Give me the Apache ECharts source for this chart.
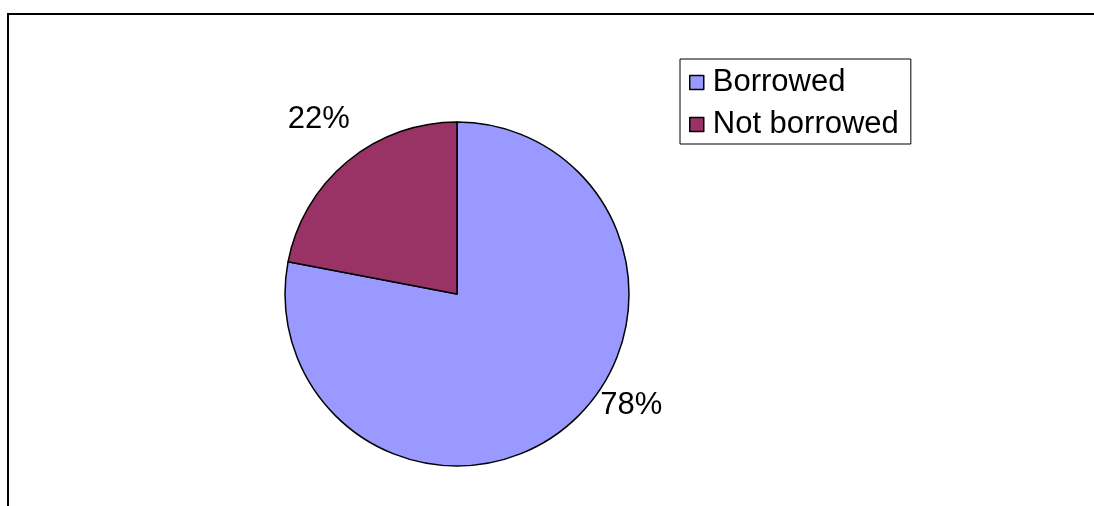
<!DOCTYPE html>
<html>
<head>
<meta charset="utf-8">
<style>
  html, body { margin: 0; padding: 0; background: #fff; }
  #chart { width: 1094px; height: 506px; }
</style>
<script src="https://cdn.jsdelivr.net/npm/echarts@6/dist/echarts.min.js"></script>
</head>
<body>
<div id="chart"></div>
<script>
// Share of respondents who borrowed
const categories = ['Borrowed', 'Not borrowed'];
const shares = [78, 22];
const sliceColors = ['#9999FF', '#993366'];

// Pie geometry (px) and label placement relative to each slice's mid angle
const pieCenter = [457, 294];
const pieRadius = 172;
const labelGap = [35, 51];        // distance beyond the rim to the label centre
const labelTurn = [17.8, -1.3];   // degrees, positive = anticlockwise on screen

const chart = echarts.init(document.getElementById('chart'));
const font = '"Liberation Sans", Arial, sans-serif';

function midAngle(index) {
  const total = shares.reduce((a, b) => a + b, 0);
  let before = 0;
  for (let i = 0; i < index; i++) before += shares[i];
  const mid = (before + shares[index] / 2) / total * 360;
  return 90 - mid; // clockwise from 12 o'clock, in standard degrees
}

chart.setOption({
  animation: false,
  backgroundColor: '#fff',
  legend: {
    orient: 'vertical',
    left: 680,
    top: 59,
    data: categories,
    icon: 'rect',
    itemWidth: 14,
    itemHeight: 14,
    itemGap: 11,
    padding: [8, 12, 4, 9],
    borderColor: '#000',
    borderWidth: 1,
    selectedMode: false,
    itemStyle: { borderColor: '#000', borderWidth: 1.5 },
    textStyle: {
      fontFamily: font,
      fontSize: 31,
      lineHeight: 30,
      color: '#000',
      padding: [0, 0, 0, 4]
    }
  },
  graphic: [{
    type: 'polyline',
    shape: { points: [[8, 506], [8, 14], [1094, 14]] },
    style: { stroke: '#000', lineWidth: 2, fill: null },
    silent: true
  }],
  series: [{
    type: 'pie',
    center: pieCenter,
    radius: pieRadius,
    startAngle: 90,
    clockwise: true,
    silent: true,
    data: categories.map((name, i) => ({
      name: name,
      value: shares[i],
      itemStyle: { color: sliceColors[i] }
    })),
    itemStyle: { borderColor: '#000', borderWidth: 1.5 },
    label: {
      show: true,
      position: 'outside',
      formatter: '{d}%',
      fontFamily: font,
      fontSize: 31,
      color: '#000'
    },
    labelLine: { show: false },
    labelLayout: function (p) {
      const i = p.dataIndex;
      const ang = (midAngle(i) + labelTurn[i]) * Math.PI / 180;
      const dist = pieRadius + labelGap[i];
      return {
        x: pieCenter[0] + Math.cos(ang) * dist,
        y: pieCenter[1] - Math.sin(ang) * dist,
        align: 'center',
        verticalAlign: 'middle'
      };
    }
  }]
});
</script>
</body>
</html>
